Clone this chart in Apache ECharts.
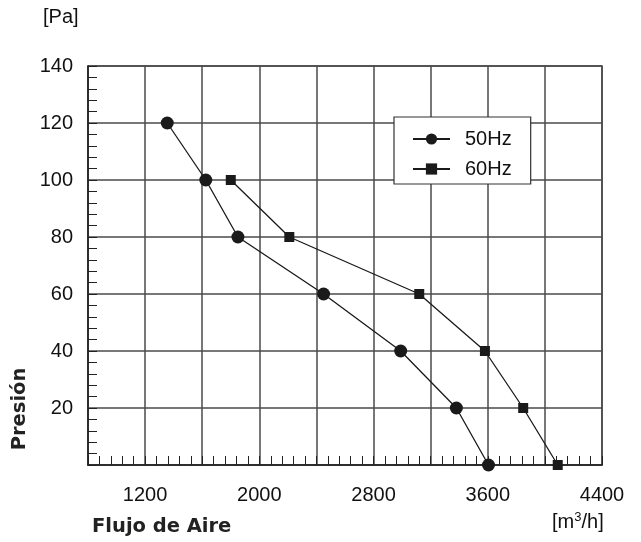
<!DOCTYPE html>
<html>
<head>
<meta charset="utf-8">
<script src="https://cdn.jsdelivr.net/npm/echarts@6/dist/echarts.min.js"></script>
<style>html,body{margin:0;padding:0;background:#fff;}#c{width:641px;height:542px;}</style>
</head>
<body>
<div id="c"></div>
<script>
const pressure = [120, 100, 80, 60, 40, 20, 0];
const flow50 = [1355, 1625, 1850, 2450, 2990, 3380, 3605];
const pressure60 = [100, 80, 60, 40, 20, 0];
const flow60 = [1800, 2210, 3120, 3580, 3848, 4090];
const xLabels = [1200, 2000, 2800, 3600, 4400];
const yLabels = [20, 40, 60, 80, 100, 120, 140];

const chart = echarts.init(document.getElementById('c'));
const ink = '#1a1a1a';
const gridColor = '#4a4a4a';
const labelFont = 'Liberation Sans';
chart.setOption({
  animation: false,
  backgroundColor: '#fff',
  grid: { left: 88, right: 39, top: 66, bottom: 77, show: true, borderColor: gridColor, borderWidth: 1.5, containLabel: false },
  xAxis: {
    type: 'value', min: 800, max: 4400, interval: 400,
    axisLine: { show: true, onZero: false, lineStyle: { color: '#222', width: 1.5 } },
    axisTick: { show: true, inside: true, length: 9, lineStyle: { color: '#222' } },
    minorTick: { show: true, splitNumber: 5, length: 9, lineStyle: { color: '#222', width: 1 } },
    splitLine: { show: true, lineStyle: { color: gridColor, width: 1.5 } },
    axisLabel: { margin: 20, fontSize: 20, color: '#111', fontFamily: labelFont,
      formatter: v => xLabels.indexOf(v) >= 0 ? String(v) : '' }
  },
  yAxis: {
    type: 'value', min: 0, max: 140, interval: 20,
    axisLine: { show: true, lineStyle: { color: '#222', width: 1.5 } },
    axisTick: { show: true, inside: true, length: 9, lineStyle: { color: '#222' } },
    minorTick: { show: true, splitNumber: 5, length: 9, lineStyle: { color: '#222', width: 1 } },
    splitLine: { show: true, lineStyle: { color: gridColor, width: 1.5 } },
    axisLabel: { margin: 15, fontSize: 20, color: '#111', fontFamily: labelFont,
      formatter: v => yLabels.indexOf(v) >= 0 ? String(v) : '' }
  },
  legend: {
    orient: 'vertical', left: 394, top: 117,
    backgroundColor: '#fff', borderColor: '#333', borderWidth: 1.2, borderRadius: 0,
    padding: [12, 19, 5, 18], itemGap: 10, itemWidth: 37, itemHeight: 14,
    textStyle: { fontSize: 20, color: '#111', fontFamily: labelFont, lineHeight: 20, padding: [0, 0, 0, 10] },
    data: ['50Hz', '60Hz']
  },
  series: [
    { name: '50Hz', type: 'line', data: flow50.map((x, i) => [x, pressure[i]]),
      symbol: 'circle', symbolSize: 13, itemStyle: { color: ink },
      lineStyle: { color: ink, width: 1.3 }, z: 5 },
    { name: '60Hz', type: 'line', data: flow60.map((x, i) => [x, pressure60[i]]),
      symbol: 'rect', symbolSize: 10, itemStyle: { color: ink },
      lineStyle: { color: ink, width: 1.3 }, z: 5 }
  ],
  graphic: [
    { type: 'text', x: 43, y: 17, style: { text: '[Pa]', fontSize: 20, fill: '#111', fontFamily: labelFont, verticalAlign: 'middle' } },
    { type: 'text', x: 20, y: 409, rotation: Math.PI / 2,
      style: { text: 'Presión', fontSize: 19.5, fontWeight: 'bold', fill: '#222', fontFamily: 'DejaVu Sans', align: 'center', verticalAlign: 'middle' } },
    { type: 'text', x: 92, y: 527, style: { text: 'Flujo de Aire', fontSize: 19.5, fontWeight: 'bold', fill: '#222', fontFamily: 'DejaVu Sans', verticalAlign: 'middle' } },
    { type: 'text', x: 552, y: 522, style: {
        text: '[m{sup|3}/h]', fontSize: 20, fill: '#111', fontFamily: labelFont, verticalAlign: 'middle',
        rich: { sup: { fontSize: 13, verticalAlign: 'top', padding: [0, 0, 9, 0], fontFamily: labelFont, fill: '#111' } } } }
  ]
});
</script>
</body>
</html>
